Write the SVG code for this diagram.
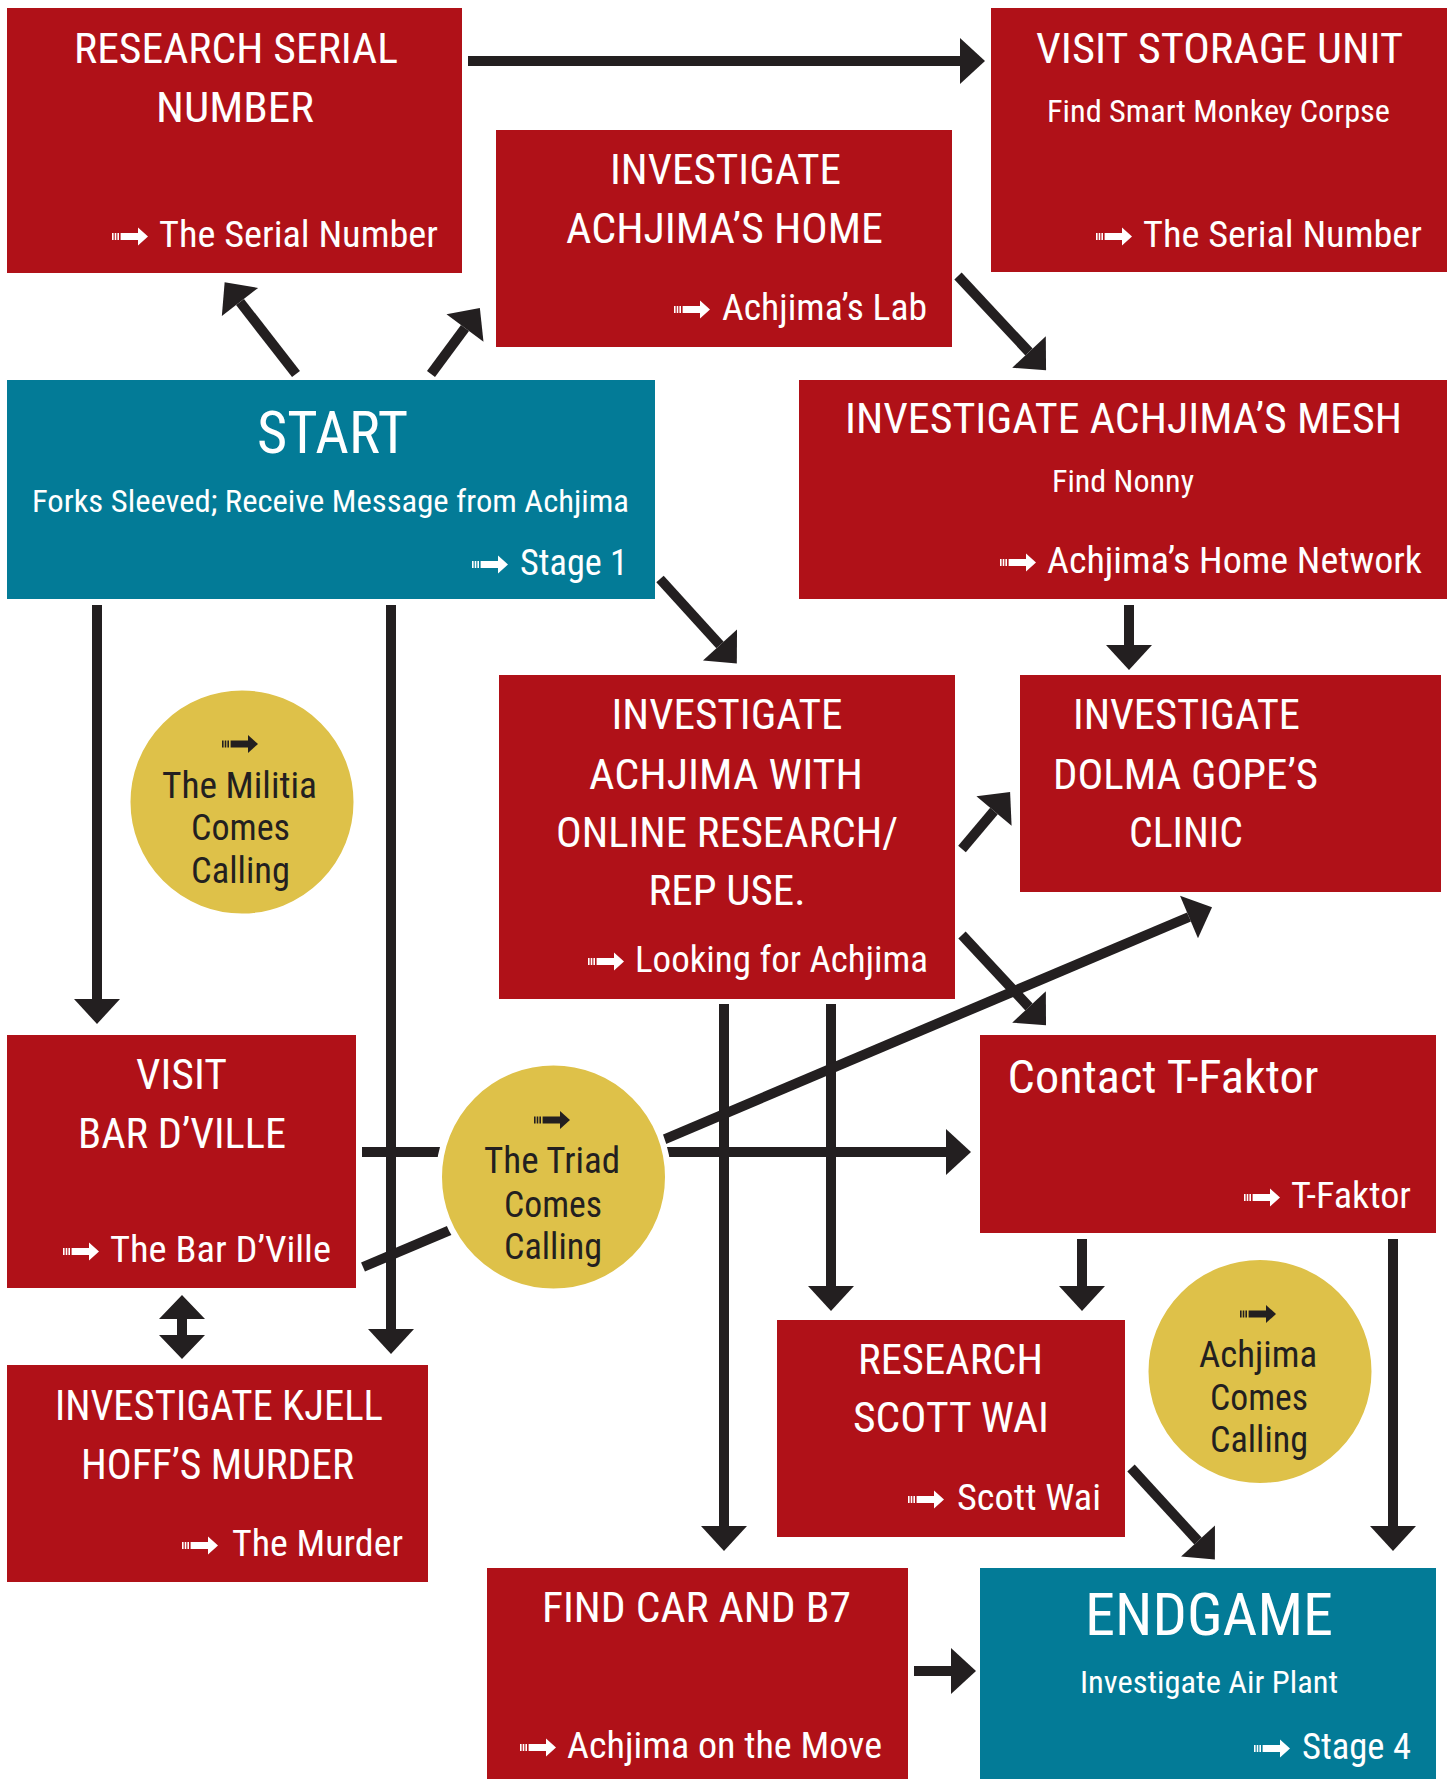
<svg xmlns="http://www.w3.org/2000/svg" xmlns:xlink="http://www.w3.org/1999/xlink" width="1453" height="1779" viewBox="0 0 1453 1779">
<style>
text{font-family:'Liberation Sans Narrow','Roboto Condensed','DejaVu Sans Condensed','Liberation Sans',sans-serif;font-stretch:condensed;}
.red{fill:#b01118;}
.teal{fill:#037b97;}
.yel{fill:#dec149;stroke:#fff;stroke-width:6;}
.w{fill:#fff;}
.k{fill:#231f20;}
.h{font-size:42px;text-anchor:middle;}
.s{font-size:31px;text-anchor:middle;}
.l{font-size:37px;}
.c{font-size:36px;text-anchor:middle;}
.big{font-size:59px;text-anchor:middle;}
.ln{stroke:#231f20;stroke-width:10;fill:none;}
.a{marker-end:url(#ah);}
</style>
<defs>
<marker id="ah" markerUnits="userSpaceOnUse" markerWidth="30" markerHeight="50" refX="0" refY="23" orient="auto" viewBox="0 0 30 46" overflow="visible">
<path d="M0,0 L25,23 L0,46 z" fill="#231f20"/>
</marker>
<g id="ic">
<rect x="0" y="-3.5" width="1.6" height="7"/>
<rect x="2.7" y="-3.5" width="1.6" height="7"/>
<rect x="5.4" y="-3.5" width="1.6" height="7"/>
<rect x="8.6" y="-3.5" width="18" height="7"/>
<path d="M26,-9 L36,0 L26,9 z"/>
</g>
</defs>

<g id="connectors">
<line class="ln a" x1="468" y1="61" x2="960" y2="61"/>
<line class="ln a" x1="296" y1="374" x2="240" y2="302"/>
<line class="ln a" x1="431" y1="374" x2="465" y2="328"/>
<line class="ln a" x1="958" y1="276" x2="1029" y2="352"/>
<line class="ln a" x1="660" y1="579" x2="720" y2="645"/>
<line class="ln a" x1="1129" y1="605" x2="1129" y2="645"/>
<line class="ln a" x1="97" y1="605" x2="97" y2="999"/>
<line class="ln a" x1="391" y1="605" x2="391" y2="1329"/>
<line class="ln a" x1="962" y1="849" x2="994" y2="811"/>
<line class="ln a" x1="962" y1="935" x2="1029" y2="1007"/>
<line class="ln a" x1="724" y1="1004" x2="724" y2="1526"/>
<line class="ln a" x1="831" y1="1004" x2="831" y2="1286"/>
<line class="ln a" x1="362" y1="1152" x2="946" y2="1152"/>
<line class="ln a" x1="363" y1="1267" x2="1189" y2="917"/>
<line class="ln" x1="182" y1="1318" x2="182" y2="1336"/>
<path d="M159,1319 L182,1295 L205,1319 z M159,1335 L182,1359 L205,1335 z" fill="#231f20"/>
<line class="ln a" x1="1082" y1="1239" x2="1082" y2="1286"/>
<line class="ln a" x1="1393" y1="1239" x2="1393" y2="1526"/>
<line class="ln a" x1="1131" y1="1468" x2="1198" y2="1541"/>
<line class="ln a" x1="914" y1="1671" x2="951" y2="1671"/>
</g>

<g id="research-serial">
<rect class="red" x="7" y="8" width="455" height="265"/>
<text class="w h" x="236" y="63" textLength="324" lengthAdjust="spacingAndGlyphs">RESEARCH SERIAL</text>
<text class="w h" x="235" y="122" textLength="158" lengthAdjust="spacingAndGlyphs">NUMBER</text>
<use xlink:href="#ic" x="112" y="236.5" class="w"/>
<text class="w l" x="159" y="247" textLength="279" lengthAdjust="spacingAndGlyphs">The Serial Number</text>
</g>

<g id="storage-unit">
<rect class="red" x="991" y="8" width="456" height="264"/>
<text class="w h" x="1219.5" y="62.5" textLength="367" lengthAdjust="spacingAndGlyphs">VISIT STORAGE UNIT</text>
<text class="w s" x="1218.5" y="122" textLength="343" lengthAdjust="spacingAndGlyphs">Find Smart Monkey Corpse</text>
<use xlink:href="#ic" x="1096" y="236.5" class="w"/>
<text class="w l" x="1143" y="247" textLength="279" lengthAdjust="spacingAndGlyphs">The Serial Number</text>
</g>

<g id="achjima-home">
<rect class="red" x="496" y="130" width="456" height="217"/>
<text class="w h" x="725.5" y="184" textLength="231" lengthAdjust="spacingAndGlyphs">INVESTIGATE</text>
<text class="w h" x="724.5" y="243" textLength="317" lengthAdjust="spacingAndGlyphs">ACHJIMA’S HOME</text>
<use xlink:href="#ic" x="674" y="309.5" class="w"/>
<text class="w l" x="722" y="320" textLength="205" lengthAdjust="spacingAndGlyphs">Achjima’s Lab</text>
</g>

<g id="start">
<rect class="teal" x="7" y="380" width="648" height="219"/>
<text class="w big" x="332.5" y="453" textLength="151" lengthAdjust="spacingAndGlyphs">START</text>
<text class="w s" x="330.5" y="512" textLength="597" lengthAdjust="spacingAndGlyphs">Forks Sleeved; Receive Message from Achjima</text>
<use xlink:href="#ic" x="472" y="564.5" class="w"/>
<text class="w l" x="520" y="575" textLength="108" lengthAdjust="spacingAndGlyphs">Stage 1</text>
</g>

<g id="achjima-mesh">
<rect class="red" x="799" y="380" width="648" height="219"/>
<text class="w h" x="1123.5" y="433" textLength="557" lengthAdjust="spacingAndGlyphs">INVESTIGATE ACHJIMA’S MESH</text>
<text class="w s" x="1123" y="492" textLength="142" lengthAdjust="spacingAndGlyphs">Find Nonny</text>
<use xlink:href="#ic" x="1000" y="562.5" class="w"/>
<text class="w l" x="1047" y="573" textLength="375" lengthAdjust="spacingAndGlyphs">Achjima’s Home Network</text>
</g>

<g id="militia">
<circle class="yel" cx="242" cy="802" r="114.5"/>
<use xlink:href="#ic" x="222" y="744" class="k"/>
<text class="k c" x="239.5" y="798" textLength="155" lengthAdjust="spacingAndGlyphs">The Militia</text>
<text class="k c" x="240.5" y="840" textLength="99" lengthAdjust="spacingAndGlyphs">Comes</text>
<text class="k c" x="240.5" y="883" textLength="99" lengthAdjust="spacingAndGlyphs">Calling</text>
</g>

<g id="online-research">
<rect class="red" x="499" y="675" width="456" height="324"/>
<text class="w h" x="727" y="729" textLength="231" lengthAdjust="spacingAndGlyphs">INVESTIGATE</text>
<text class="w h" x="726" y="789" textLength="274" lengthAdjust="spacingAndGlyphs">ACHJIMA WITH</text>
<text class="w h" x="727" y="847" textLength="342" lengthAdjust="spacingAndGlyphs">ONLINE RESEARCH/</text>
<text class="w h" x="727" y="905" textLength="157" lengthAdjust="spacingAndGlyphs">REP USE.</text>
<use xlink:href="#ic" x="588" y="961.5" class="w"/>
<text class="w l" x="635" y="972" textLength="293" lengthAdjust="spacingAndGlyphs">Looking for Achjima</text>
</g>

<g id="dolma-clinic">
<rect class="red" x="1020" y="675" width="421" height="217"/>
<text class="w h" x="1186.5" y="729" textLength="227" lengthAdjust="spacingAndGlyphs">INVESTIGATE</text>
<text class="w h" x="1185.5" y="789" textLength="265" lengthAdjust="spacingAndGlyphs">DOLMA GOPE’S</text>
<text class="w h" x="1186" y="847" textLength="114" lengthAdjust="spacingAndGlyphs">CLINIC</text>
</g>

<g id="bar-dville">
<rect class="red" x="7" y="1035" width="349" height="253"/>
<text class="w h" x="181.5" y="1089" textLength="91" lengthAdjust="spacingAndGlyphs">VISIT</text>
<text class="w h" x="182" y="1148" textLength="208" lengthAdjust="spacingAndGlyphs">BAR D’VILLE</text>
<use xlink:href="#ic" x="63" y="1251.5" class="w"/>
<text class="w l" x="110" y="1262" textLength="221" lengthAdjust="spacingAndGlyphs">The Bar D’Ville</text>
</g>

<g id="triad">
<circle class="yel" cx="553.5" cy="1177" r="114.5"/>
<use xlink:href="#ic" x="534" y="1120" class="k"/>
<text class="k c" x="552" y="1173" textLength="136" lengthAdjust="spacingAndGlyphs">The Triad</text>
<text class="k c" x="553" y="1217" textLength="98" lengthAdjust="spacingAndGlyphs">Comes</text>
<text class="k c" x="553" y="1259" textLength="98" lengthAdjust="spacingAndGlyphs">Calling</text>
</g>

<g id="t-faktor">
<rect class="red" x="980" y="1035" width="456" height="198"/>
<text class="w" x="1007.5" y="1093" font-size="47" textLength="311" lengthAdjust="spacingAndGlyphs">Contact T-Faktor</text>
<use xlink:href="#ic" x="1244" y="1197.5" class="w"/>
<text class="w l" x="1291" y="1208" textLength="120" lengthAdjust="spacingAndGlyphs">T-Faktor</text>
</g>

<g id="kjell-murder">
<rect class="red" x="7" y="1365" width="421" height="217"/>
<text class="w h" x="219" y="1420" textLength="328" lengthAdjust="spacingAndGlyphs">INVESTIGATE KJELL</text>
<text class="w h" x="217.5" y="1479" textLength="273" lengthAdjust="spacingAndGlyphs">HOFF’S MURDER</text>
<use xlink:href="#ic" x="182" y="1545.5" class="w"/>
<text class="w l" x="232" y="1556" textLength="171" lengthAdjust="spacingAndGlyphs">The Murder</text>
</g>

<g id="scott-wai">
<rect class="red" x="777" y="1320" width="348" height="217"/>
<text class="w h" x="950.5" y="1374" textLength="185" lengthAdjust="spacingAndGlyphs">RESEARCH</text>
<text class="w h" x="951" y="1432" textLength="196" lengthAdjust="spacingAndGlyphs">SCOTT WAI</text>
<use xlink:href="#ic" x="908" y="1499.5" class="w"/>
<text class="w l" x="957" y="1510" textLength="144" lengthAdjust="spacingAndGlyphs">Scott Wai</text>
</g>

<g id="achjima-calling">
<circle class="yel" cx="1260" cy="1371.5" r="114.5"/>
<use xlink:href="#ic" x="1240" y="1314" class="k"/>
<text class="k c" x="1258" y="1367" textLength="118" lengthAdjust="spacingAndGlyphs">Achjima</text>
<text class="k c" x="1259" y="1410" textLength="98" lengthAdjust="spacingAndGlyphs">Comes</text>
<text class="k c" x="1259" y="1452" textLength="98" lengthAdjust="spacingAndGlyphs">Calling</text>
</g>

<g id="find-car">
<rect class="red" x="487" y="1568" width="421" height="211"/>
<text class="w h" x="696.5" y="1622" textLength="309" lengthAdjust="spacingAndGlyphs">FIND CAR AND B7</text>
<use xlink:href="#ic" x="520" y="1747.5" class="w"/>
<text class="w l" x="567" y="1758" textLength="315" lengthAdjust="spacingAndGlyphs">Achjima on the Move</text>
</g>

<g id="endgame">
<rect class="teal" x="980" y="1568" width="456" height="211"/>
<text class="w big" x="1209" y="1635" textLength="248" lengthAdjust="spacingAndGlyphs">ENDGAME</text>
<text class="w s" x="1209" y="1693" textLength="258" lengthAdjust="spacingAndGlyphs">Investigate Air Plant</text>
<use xlink:href="#ic" x="1254" y="1748.5" class="w"/>
<text class="w l" x="1302" y="1759" textLength="109" lengthAdjust="spacingAndGlyphs">Stage 4</text>
</g>
</svg>
